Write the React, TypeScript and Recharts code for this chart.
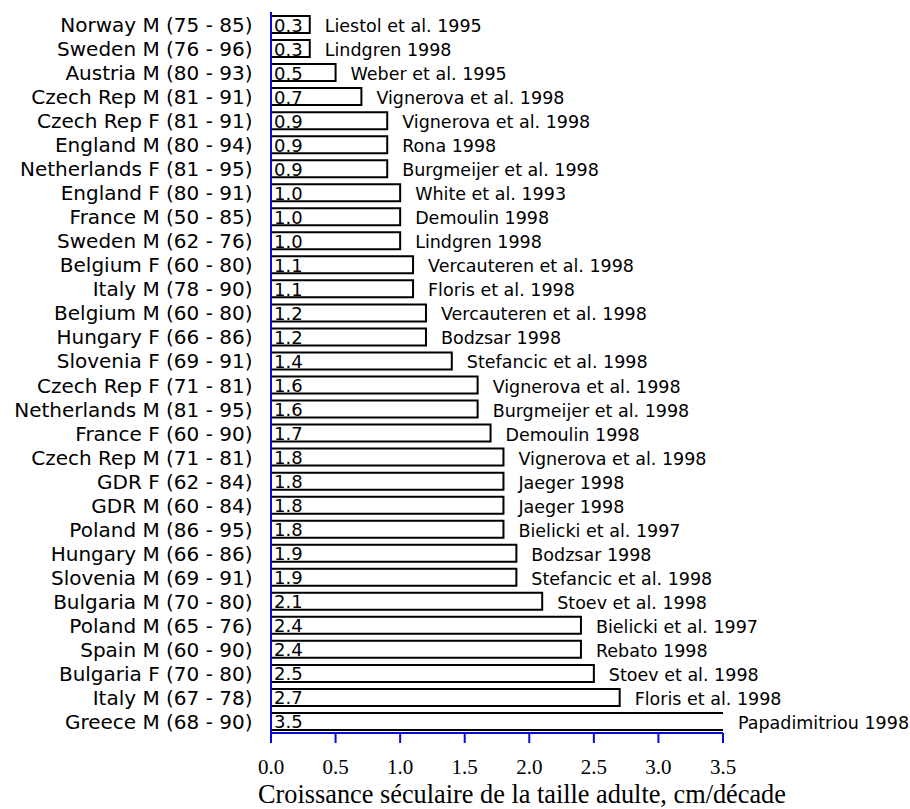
import React from 'react';
import { BarChart, Bar, XAxis, YAxis, LabelList, Label } from 'recharts';

const categories = [
  'Norway M (75 - 85)', 'Sweden M (76 - 96)', 'Austria M (80 - 93)', 'Czech Rep M (81 - 91)',
  'Czech Rep F (81 - 91)', 'England M (80 - 94)', 'Netherlands F (81 - 95)', 'England F (80 - 91)',
  'France M (50 - 85)', 'Sweden M (62 - 76)', 'Belgium F (60 - 80)', 'Italy M (78 - 90)',
  'Belgium M (60 - 80)', 'Hungary F (66 - 86)', 'Slovenia F (69 - 91)', 'Czech Rep F (71 - 81)',
  'Netherlands M (81 - 95)', 'France F (60 - 90)', 'Czech Rep M (71 - 81)', 'GDR F (62 - 84)',
  'GDR M (60 - 84)', 'Poland M (86 - 95)', 'Hungary M (66 - 86)', 'Slovenia M (69 - 91)',
  'Bulgaria M (70 - 80)', 'Poland M (65 - 76)', 'Spain M (60 - 90)', 'Bulgaria F (70 - 80)',
  'Italy M (67 - 78)', 'Greece M (68 - 90)',
];

const values = [
  0.3, 0.3, 0.5, 0.7, 0.9, 0.9, 0.9, 1.0, 1.0, 1.0, 1.1, 1.1, 1.2, 1.2, 1.4,
  1.6, 1.6, 1.7, 1.8, 1.8, 1.8, 1.8, 1.9, 1.9, 2.1, 2.4, 2.4, 2.5, 2.7, 3.5,
];

const references = [
  'Liestol et al. 1995', 'Lindgren 1998', 'Weber et al. 1995', 'Vignerova et al. 1998',
  'Vignerova et al. 1998', 'Rona 1998', 'Burgmeijer et al. 1998', 'White et al. 1993',
  'Demoulin 1998', 'Lindgren 1998', 'Vercauteren et al. 1998', 'Floris et al. 1998',
  'Vercauteren et al. 1998', 'Bodzsar 1998', 'Stefancic et al. 1998', 'Vignerova et al. 1998',
  'Burgmeijer et al. 1998', 'Demoulin 1998', 'Vignerova et al. 1998', 'Jaeger 1998',
  'Jaeger 1998', 'Bielicki et al. 1997', 'Bodzsar 1998', 'Stefancic et al. 1998',
  'Stoev et al. 1998', 'Bielicki et al. 1997', 'Rebato 1998', 'Stoev et al. 1998',
  'Floris et al. 1998', 'Papadimitriou 1998',
];

const xTicks = [0, 0.5, 1.0, 1.5, 2.0, 2.5, 3.0, 3.5];
const xMax = 3.5;
const title = 'Croissance séculaire de la taille adulte, cm/décade';

const data = categories.map((name, i) => ({ name, value: values[i], ref: references[i] }));

const BLUE = '#0a0ad8';
const SANS = '"DejaVu Sans", Verdana, sans-serif';
const SERIF = '"Liberation Serif", "Times New Roman", serif';

const BarShape = (props: any) => {
  const { x, y, width, height, payload } = props;
  const full = payload && payload.value >= xMax;
  const x2 = x + width;
  const d = full
    ? `M${x2},${y} L${x},${y} L${x},${y + height} L${x2},${y + height}`
    : `M${x},${y} L${x2},${y} L${x2},${y + height} L${x},${y + height} Z`;
  return <path d={d} fill="#ffffff" stroke="#000000" strokeWidth={2} />;
};

const YTick = (props: any) => {
  const { x, y, payload } = props;
  return (
    <text x={x - 10.5} y={y + 8} textAnchor="end" fontFamily={SANS} fontSize={20} fill="#000">
      {payload.value}
    </text>
  );
};

const XTick = (props: any) => {
  const { x, y, payload } = props;
  return (
    <text x={x} y={y + 29} textAnchor="middle" fontFamily={SERIF} fontSize={21} fill="#000">
      {Number(payload.value).toFixed(1)}
    </text>
  );
};

const ValueLabel = (props: any) => {
  const { x, y, height, value } = props;
  return (
    <text x={x + 3} y={y + height - 1.5} fontFamily={SANS} fontSize={18} fill="#000">
      {Number(value).toFixed(1)}
    </text>
  );
};

const RefLabel = (props: any) => {
  const { x, y, width, height, value } = props;
  return (
    <text x={x + width + 15} y={y + height / 2 + 7.5} fontFamily={SANS} fontSize={17.5} fill="#000">
      {value}
    </text>
  );
};

const TitleLabel = (props: any) => {
  const { viewBox } = props;
  const cx = viewBox.x + viewBox.width / 2 + 25;
  return (
    <text x={cx} y={viewBox.y + viewBox.height - 6} textAnchor="middle" fontFamily={SERIF} fontSize={26.3} fill="#000">
      {title}
    </text>
  );
};

export default function App() {
  return (
    <div style={{ position: 'absolute', left: 0, top: 0, width: 910, height: 809, background: '#fff' }}>
      <BarChart
        width={910}
        height={809}
        data={data}
        layout="vertical"
        margin={{ top: 12, right: 187, bottom: 0, left: 0 }}
        barSize={17}
      >
        <Bar dataKey="value" shape={<BarShape />} isAnimationActive={false}>
          <LabelList dataKey="value" content={<ValueLabel />} />
          <LabelList dataKey="ref" content={<RefLabel />} />
        </Bar>
        <XAxis
          type="number"
          domain={[0, xMax]}
          ticks={xTicks}
          allowDataOverflow
          height={76}
          stroke={BLUE}
          axisLine={{ stroke: BLUE, strokeWidth: 2 }}
          tickLine={{ stroke: BLUE, strokeWidth: 2 }}
          tickSize={10}
          tick={<XTick />}
        >
          <Label content={<TitleLabel />} />
        </XAxis>
        <YAxis
          type="category"
          dataKey="name"
          width={271}
          axisLine={{ stroke: BLUE, strokeWidth: 2 }}
          tickLine={false}
          tick={<YTick />}
          interval={0}
        />
      </BarChart>
    </div>
  );
}
